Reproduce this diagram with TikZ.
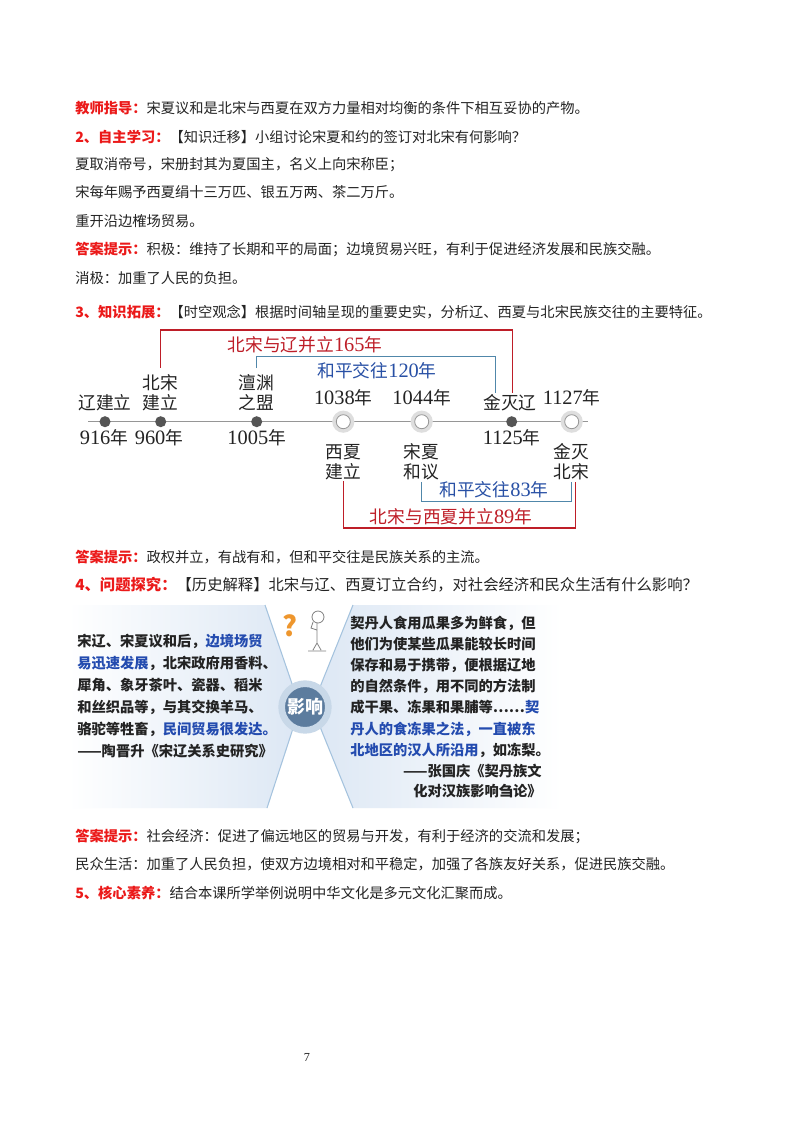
\documentclass[tikz,border=0pt]{standalone}
\usepackage{fontspec}
\setmainfont{Noto Sans CJK SC}
\newfontfamily\numfont{Liberation Serif}[Scale=1.15]
\definecolor{ink}{RGB}{35,35,35}
\definecolor{labred}{RGB}{235,25,25}
\definecolor{tlred}{RGB}{190,30,40}
\definecolor{tlblue}{RGB}{40,80,165}
\definecolor{tlbline}{RGB}{80,135,170}
\definecolor{dotgray}{RGB}{85,85,85}
\definecolor{axisgray}{RGB}{150,150,150}
\definecolor{ringgray}{RGB}{222,222,222}
\definecolor{panel}{RGB}{220,231,244}
\definecolor{rimblue}{RGB}{165,195,222}
\definecolor{ringblue}{RGB}{200,216,232}
\definecolor{discblue}{RGB}{92,124,158}
\definecolor{figblue}{RGB}{35,75,175}
\definecolor{qorange}{RGB}{238,150,45}
\newcommand\yr[1]{{\numfont #1}年}
\newcommand\redlab[1]{{\bfseries\color{labred}#1}}
\newcommand\bluetxt[1]{\textcolor{figblue}{#1}}
\begin{document}
\begin{tikzpicture}[x=0.75pt,y=-0.75pt,
  line/.style={anchor=west,inner sep=0pt,text=ink,font=\fontsize{10.7}{13}\selectfont},
  tl/.style={align=center,inner sep=1pt,text=ink,font=\fontsize{13.3}{15}\selectfont},
  span/.style={inner sep=1pt,font=\fontsize{13.3}{15}\selectfont},
  dot/.style={circle,fill=dotgray,inner sep=0pt,minimum size=8.3pt},
  hollow/.style={circle,fill=white,draw=axisgray,line width=0.6pt,inner sep=0pt,minimum size=10.5pt,preaction={draw=ringgray,line width=6pt}},
  redline/.style={draw=tlred,line width=1.1pt},
  blueline/.style={draw=tlbline,line width=1.1pt},
  figtxt/.style={align=left,inner sep=0pt,text=ink,font=\bfseries\fontsize{10.7}{16.5}\selectfont},
  panelrim/.style={draw=rimblue,line width=0.8pt},
  disc/.style={circle,fill=discblue,draw=ringblue,line width=5pt,minimum size=35pt,inner sep=0pt,text=white,font=\bfseries\fontsize{13.5}{14}\selectfont},
  stick/.style={draw=gray,line width=0.6pt}]
\fill[white] (0,0) rectangle (800,1132);
\useasboundingbox (0,0) rectangle (800,1132);
% texte
\node[line] (l1) at (75,108) {\redlab{教师指导：}宋夏议和是北宋与西夏在双方力量相对均衡的条件下相互妥协的产物。};
\node[line] (l2) at (75,137) {\redlab{2、自主学习：}【知识迁移】小组讨论宋夏和约的签订对北宋有何影响？};
\node[line] (l3) at (75,165) {夏取消帝号，宋册封其为夏国主，名义上向宋称臣；};
\node[line] (l4) at (75,192) {宋每年赐予西夏绢十三万匹、银五万两、茶二万斤。};
\node[line] (l5) at (75,221) {重开沿边榷场贸易。};
\node[line] (l6) at (75,249) {\redlab{答案提示：}积极：维持了长期和平的局面；边境贸易兴旺，有利于促进经济发展和民族交融。};
\node[line] (l7) at (75,278) {消极：加重了人民的负担。};
\node[line] (l8) at (75,312) {\redlab{3、知识拓展：}【时空观念】根据时间轴呈现的重要史实，分析辽、西夏与北宋民族交往的主要特征。};
\node[line] (l9) at (75,557) {\redlab{答案提示：}政权并立，有战有和，但和平交往是民族关系的主流。};
\node[line,font=\fontsize{11.5}{13}\selectfont] (l10) at (75,585) {\redlab{4、问题探究：}【历史解释】北宋与辽、西夏订立合约，对社会经济和民众生活有什么影响？};
\node[line] (l11) at (75,836) {\redlab{答案提示：}社会经济：促进了偏远地区的贸易与开发，有利于经济的交流和发展；};
\node[line] (l12) at (75,864) {民众生活：加重了人民负担，使双方边境相对和平稳定，加强了各族友好关系，促进民族交融。};
\node[line] (l13) at (75,893) {\redlab{5、核心素养：}结合本课所学举例说明中华文化是多元文化汇聚而成。};
\node[text=ink,font=\numfont\fontsize{8}{9}\selectfont] (pg) at (307,1057) {7};
% axe du temps
\coordinate (axL) at (88,421.7);
\coordinate (axR) at (588,421.7);
\draw[axisgray,line width=0.9pt] (axL) -- (axR);
\foreach \n/\x in {916/105,960/160.7,1005/256.7,1125/511.7}
  \node[dot] (d\n) at (\x,421.7) {};
\foreach \n/\x in {1038/343.3,1044/421.7,1127/571.7}
  \node[hollow] (d\n) at (\x,421.7) {};
\node[tl] (tLJL) at (105,403) {辽建立};
\node[tl] (tBSJL) at (160.7,393) {北宋\\建立};
\node[tl] (tCYZM) at (256.7,393) {澶渊\\之盟};
\node[tl] (t1038) at (343.3,398) {\yr{1038}};
\node[tl] (t1044) at (421.7,398) {\yr{1044}};
\node[tl] (tJML) at (510,403) {金灭辽};
\node[tl] (t1127) at (571.7,398) {\yr{1127}};
\node[tl] (t916) at (104,438) {\yr{916}};
\node[tl] (t960) at (159,438) {\yr{960}};
\node[tl] (t1005) at (256.7,438) {\yr{1005}};
\node[tl] (tXXJL) at (343.3,462) {西夏\\建立};
\node[tl] (tSXHY) at (421.7,462) {宋夏\\和议};
\node[tl] (t1125) at (511.7,438) {\yr{1125}};
\node[tl] (tJMBS) at (571.7,462) {金灭\\北宋};
\coordinate (r1) at (0,330);
\coordinate (b1) at (0,356.7);
\coordinate (b2) at (0,501.7);
\coordinate (r2) at (0,528);
\draw[redline] ([yshift=4pt]tBSJL.north) -- (tBSJL.north |- r1) -| ([xshift=2pt]tJML.north);
\draw[blueline] ([yshift=4pt]tCYZM.north) -- (tCYZM.north |- b1) -| ([xshift=-11pt]tJML.north);
\draw[blueline] (tSXHY.south) -- (tSXHY.south |- b2) -| (tJMBS.south);
\draw[redline] (tXXJL.south) -- (tXXJL.south |- r2) -| ([xshift=3pt]tJMBS.south);
\node[span,text=tlred] (s165) at (305,345) {北宋与辽并立\yr{165}};
\node[span,text=tlblue] (s120) at (377,371) {和平交往\yr{120}};
\node[span,text=tlblue] (s83) at (494,490) {和平交往\yr{83}};
\node[span,text=tlred] (s89) at (451,517) {北宋与西夏并立\yr{89}};
% encadre
\shade[left color=white,right color=panel] (68,605) -- (265,605) -- (300,707) -- (267,808) -- (68,808) -- cycle;
\shade[left color=panel,right color=white] (353,605) -- (562,605) -- (562,808) -- (353,808) -- (312,707) -- cycle;
\draw[panelrim] (265,605) -- (300,707) -- (267,808);
\draw[panelrim] (353,605) -- (312,707) -- (353,808);
\node[disc] (yx) at (305,707) {影响};
\node[text=qorange,font=\bfseries\fontsize{21}{22}\selectfont] (qm) at (290,626) {?};
\draw[stick] (318,617) circle[radius=6];
\draw[stick] (317,623) -- (317,643) (317,630) -- (311,628) -- (313,622)
  (317,643) -- (313,650) (317,643) -- (321,650) (308,651) -- (326,651);
\node[figtxt,anchor=north west] (ltxt) at (77,634) {宋辽、宋夏议和后，\bluetxt{边境场贸}\\
  \bluetxt{易迅速发展}，北宋政府用香料、\\
  犀角、象牙茶叶、瓷器、稻米\\
  和丝织品等，与其交换羊马、\\
  骆驼等牲畜，\bluetxt{民间贸易很发达。}\\
  ——陶晋升《宋辽关系史研究》};
\node[figtxt,anchor=north west,font=\bfseries\fontsize{10.7}{15.8}\selectfont] (rtxt) at (350,616) {契丹人食用瓜果多为鲜食，但\\
  他们为使某些瓜果能较长时间\\
  保存和易于携带，便根据辽地\\
  的自然条件，用不同的方法制\\
  成干果、冻果和果脯等……\bluetxt{契}\\
  \bluetxt{丹人的食冻果之法，一直被东}\\
  \bluetxt{北地区的汉人所沿用}，如冻梨。};
\node[figtxt,align=right,anchor=north east,font=\bfseries\fontsize{10.7}{15}\selectfont] (rsrc) at (542,764) {——张国庆《契丹族文\\化对汉族影响刍论》};
\end{tikzpicture}
\end{document}
